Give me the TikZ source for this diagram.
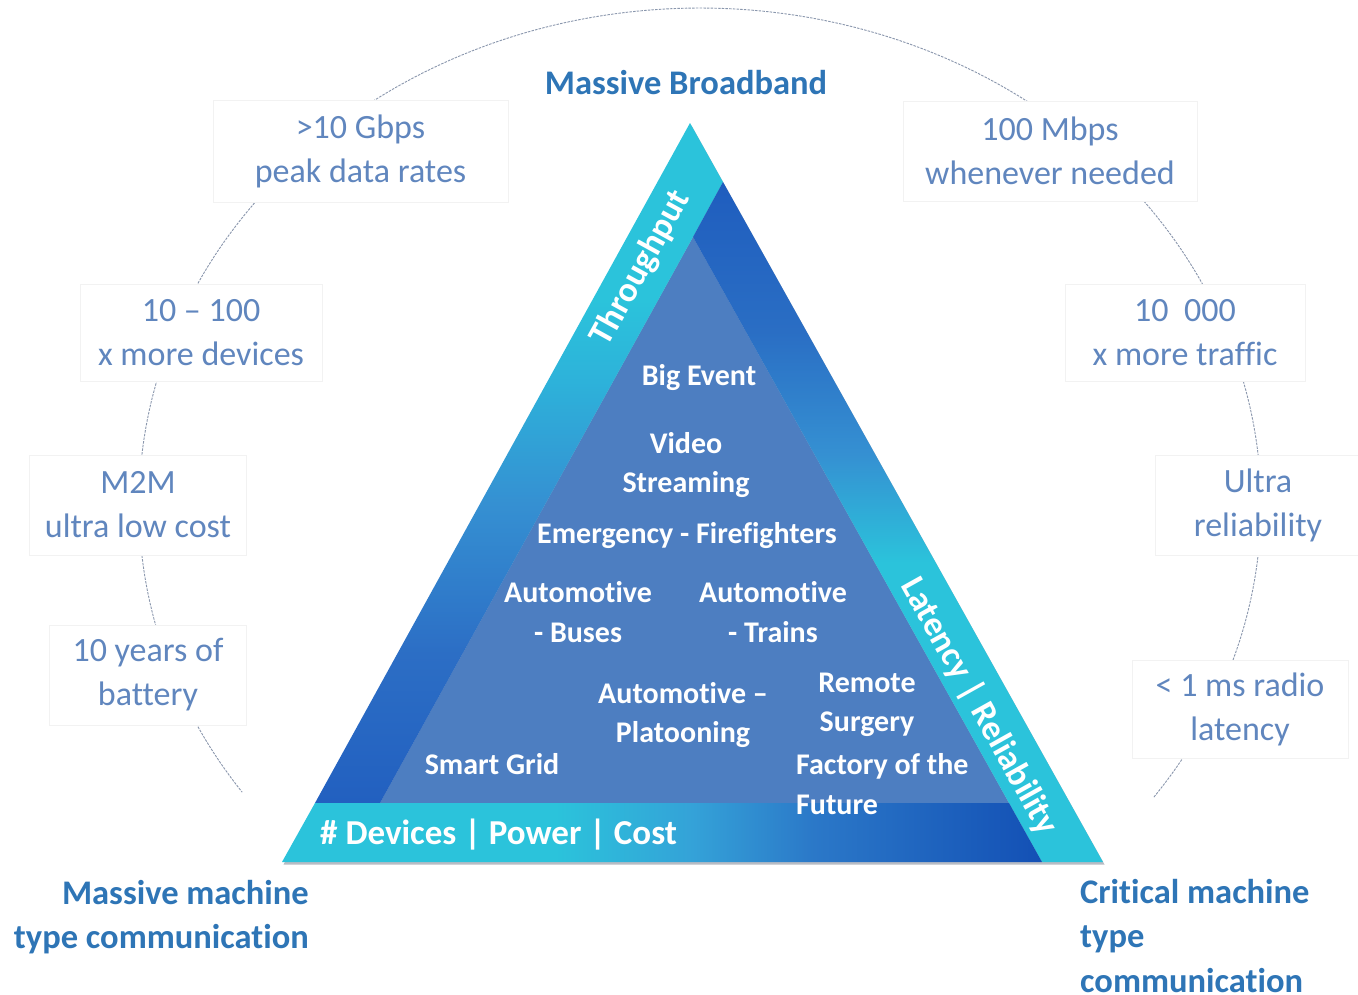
\documentclass[tikz,border=0pt]{standalone}
\usepackage{fontspec}
\setmainfont{Carlito}[Ligatures=NoCommon]
\definecolor{cyanB}{HTML}{2BC3DB}
\definecolor{lbA}{HTML}{2260C0}
\definecolor{lbB}{HTML}{2C6EC5}
\definecolor{lbC}{HTML}{3590D2}
\definecolor{lbD}{HTML}{2DB2DA}
\definecolor{rbA}{HTML}{1F5DBE}
\definecolor{rbB}{HTML}{2A6EC4}
\definecolor{rbC}{HTML}{3590D2}
\definecolor{bbA}{HTML}{1350B5}
\definecolor{bbB}{HTML}{2B78C8}
\definecolor{bbC}{HTML}{34A2D8}
\definecolor{innerB}{HTML}{4D7EC1}
\definecolor{headblue}{HTML}{2E75B6}
\definecolor{boxtext}{HTML}{6086BE}
\definecolor{boxline}{HTML}{F2F2F2}
\definecolor{arcgray}{HTML}{8A97AD}
\definecolor{shadowgray}{HTML}{B8BCC4}
\pgfdeclareverticalshading{leftband}{100bp}{color(0bp)=(lbA); color(25bp)=(lbA); color(36bp)=(lbB); color(47bp)=(lbC); color(56bp)=(lbD); color(62bp)=(cyanB); color(100bp)=(cyanB)}
\pgfdeclareverticalshading{rightband}{100bp}{color(0bp)=(cyanB); color(25bp)=(cyanB); color(47bp)=(cyanB); color(55bp)=(rbC); color(64bp)=(rbB); color(75bp)=(rbA); color(100bp)=(rbA)}
\pgfdeclarehorizontalshading{bottomband}{100bp}{color(0bp)=(cyanB); color(25bp)=(cyanB); color(43bp)=(cyanB); color(52bp)=(bbC); color(60bp)=(bbB); color(75bp)=(bbA); color(100bp)=(bbA)}
\begin{document}
\begin{tikzpicture}[x=1pt,y=-1pt,
  box/.style={draw=boxline, line width=0.7pt, fill=white, align=center, inner sep=0pt, text=boxtext, font=\fontsize{34}{44}\selectfont},
  head/.style={text=headblue, font=\bfseries\fontsize{34.5}{44.5}\selectfont, inner sep=0pt},
  innertxt/.style={text=white, font=\bfseries\fontsize{30}{39.5}\selectfont, align=center, inner sep=0pt},
  bandtxt/.style={text=white, font=\bfseries\fontsize{35}{40}\selectfont, inner sep=0pt},
  arcline/.style={draw=arcgray, line width=0.9pt, dash pattern=on 2.5pt off 1.2pt}]
\useasboundingbox (0,0) rectangle (1358,994);
\fill[white] (0,0) rectangle (1358,994);
% dashed ellipse arc
\draw[arcline] plot[domain=-36:215.3, samples=240, variable=\t] ({700+561*cos(\t)},{505-497*sin(\t)});
% boxes
\node[box, minimum width=295pt, minimum height=102pt] (b1) at (360.5,151) {>10 Gbps\\peak data rates};
\node[box, minimum width=242pt, minimum height=97pt] (b2) at (201,333) {10 – 100\\x more devices};
\node[box, minimum width=217pt, minimum height=100pt] (b3) at (138,505) {M2M\\ultra low cost};
\node[box, minimum width=197pt, minimum height=100pt] (b4) at (148,675) {10 years of\\battery};
\node[box, minimum width=294pt, minimum height=100pt] (b5) at (1050,151) {100 Mbps\\whenever needed};
\node[box, minimum width=240pt, minimum height=97pt] (b6) at (1185,333) {10\ \ 000\\x more traffic};
\node[box, minimum width=206pt, minimum height=100pt] (b7) at (1258,505) {Ultra\\reliability};
\node[box, minimum width=216pt, minimum height=98pt] (b8) at (1240,709) {< 1 ms radio\\latency};
% triangle geometry
\coordinate (A) at (690,123);
\coordinate (B) at (282,862);
\coordinate (C) at (1103,862);
\coordinate (P1) at (723,182);
\coordinate (Ai) at (693,237);
\coordinate (Bi) at (380,803);
\coordinate (Ci) at (1009,803);
\coordinate (Lb) at (315,803);
\coordinate (Rb) at (1042,862);
\fill[shadowgray] ([shift={(1.5,2.5)}]A) -- ([shift={(1.5,2.5)}]B) -- ([shift={(1.5,2.5)}]C) -- cycle;
\fill[innerB] (Ai) -- (Bi) -- (Ci) -- cycle;
\shade[shading=leftband] (A) -- (P1) -- (Ai) -- (Bi) -- (Lb) -- cycle;
\shade[shading=rightband] (P1) -- (C) -- (Rb) -- (Ai) -- cycle;
\shade[shading=bottomband] (Lb) -- (Ci) -- (Rb) -- (B) -- cycle;
% band labels
\node[bandtxt, rotate=61.1] (thr) at (641,268) {Throughput};
\node[bandtxt, rotate=-60.8] (lat) at (979,706) {Latency | Reliability};
\node[bandtxt, anchor=west] (dev) at (320,835) {\# Devices | Power | Cost};
% inner labels
\node[innertxt] (big) at (699,378) {Big Event};
\node[innertxt] (video) at (686,465) {Video\\Streaming};
\node[innertxt] (emer) at (687,536) {Emergency - Firefighters};
\node[innertxt] (buses) at (578,612) {Automotive\\- Buses};
\node[innertxt] (trains) at (773,612) {Automotive\\- Trains};
\node[innertxt] (plat) at (683,715) {Automotive –\\Platooning};
\node[innertxt] (surg) at (867,705) {Remote\\Surgery};
\node[innertxt, align=left, anchor=west] (fact) at (796,784) {Factory of the\\Future};
\node[innertxt] (grid) at (492,764) {Smart Grid};
% headings
\node[head] (mbb) at (686,83) {Massive Broadband};
\node[head, align=right, anchor=east] (mmtc) at (309,917) {Massive machine\\type communication};
\node[head, align=left, anchor=west] (cmtc) at (1080,936) {Critical machine\\type\\communication};
\end{tikzpicture}
\end{document}
